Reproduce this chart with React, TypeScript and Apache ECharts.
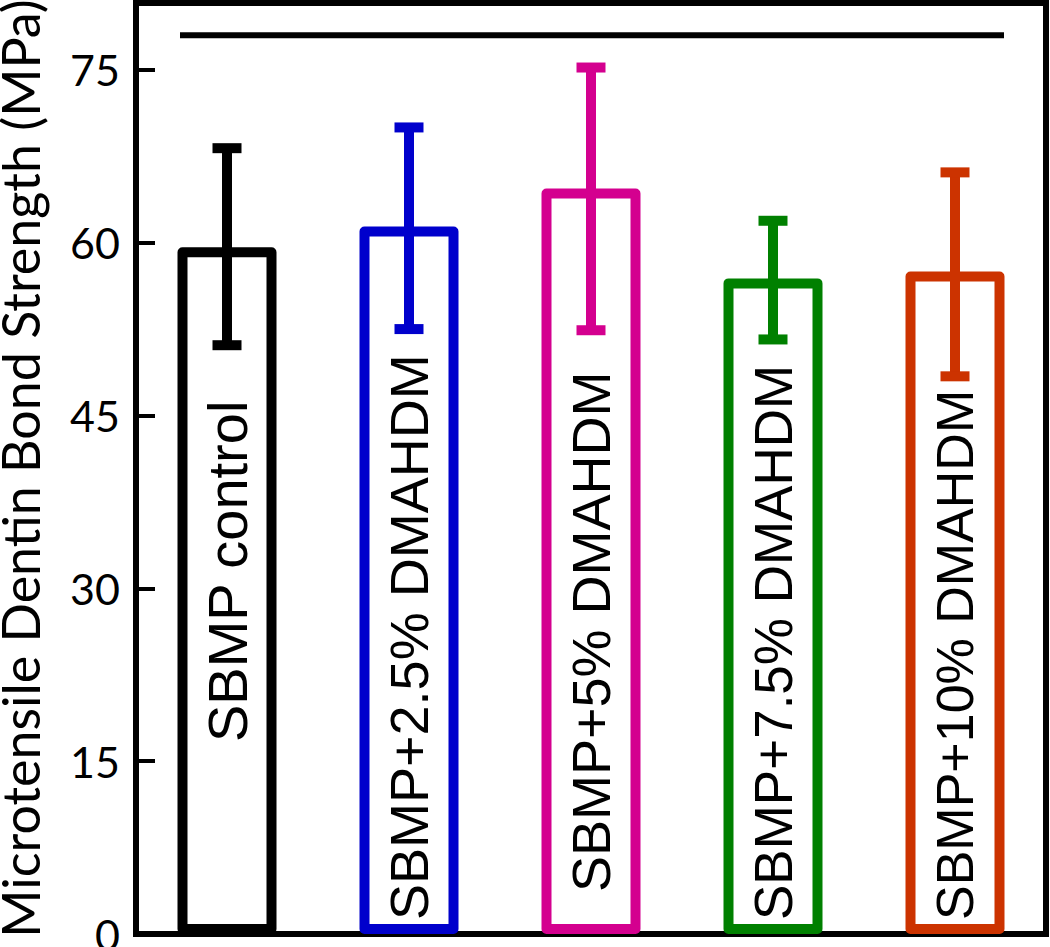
import React, { useEffect, useRef } from "react";
import * as echarts from "echarts";

const categories = [
  "SBMP control",
  "SBMP+2.5% DMAHDM",
  "SBMP+5% DMAHDM",
  "SBMP+7.5% DMAHDM",
  "SBMP+10% DMAHDM",
];
const means = [59.6, 61.4, 64.7, 56.9, 57.5];
const upper = [68.2, 70.0, 75.2, 61.9, 66.1];
const lower = [51.1, 52.5, 52.4, 51.6, 48.4];
const colors = ["#000000", "#0000CC", "#D4008F", "#008000", "#CC3300"];
const yMin = 0;
const yMax = 80.8;
const yInterval = 15;
const sigLineValue = 78;
const sigFrom = 0;
const sigTo = 4;
const yTitle = "Microtensile Dentin Bond Strength (MPa)";

// label styling (distance from bar bottom and font size, px)
const labelDistances = [192, 14, 42, 14, 14];
const labelSizes = [56, 54, 54, 53, 52];

const BAR_W = 99;

export default function App() {
  const ref = useRef<HTMLDivElement>(null);
  useEffect(() => {
    document.body.style.margin = "0";
    const chart = echarts.init(ref.current!, null, { renderer: "svg" });
    const option = {
      animation: false,
      backgroundColor: "#ffffff",
      grid: {
        left: 136,
        right: 4,
        top: 3,
        bottom: 13,
        show: true,
        borderColor: "#000",
        borderWidth: 6,
        backgroundColor: "transparent",
        containLabel: false,
        outerBoundsMode: "none",
      },
      xAxis: {
        type: "category",
        data: categories,
        axisLine: { show: true, lineStyle: { color: "#000", width: 6 } },
        axisTick: { show: false },
        axisLabel: { show: false },
        splitLine: { show: false },
      },
      yAxis: {
        type: "value",
        min: yMin,
        max: yMax,
        interval: yInterval,
        name: yTitle,
        nameLocation: "middle",
        nameGap: 90,
        nameTextStyle: { fontSize: 52, fontFamily: "Lato", color: "#000" },
        axisLine: { show: true, lineStyle: { color: "#000", width: 6 } },
        axisTick: { show: true, inside: true, length: 19, lineStyle: { color: "#000", width: 4 } },
        axisLabel: {
          fontSize: 43,
          fontFamily: "Lato",
          color: "#000",
          margin: 16,
          showMaxLabel: false,
        },
        splitLine: { show: false },
      },
      series: [
        {
          type: "bar",
          barWidth: BAR_W,
          z: 2,
          data: means.map((v, i) => ({
            value: v,
            itemStyle: {
              color: "#ffffff",
              borderColor: colors[i],
              borderWidth: 10,
              borderJoin: "round",
            },
            label: { distance: labelDistances[i], fontSize: labelSizes[i] },
          })),
          label: {
            show: true,
            position: "insideBottom",
            rotate: 90,
            align: "left",
            verticalAlign: "middle",
            formatter: (p: any) => categories[p.dataIndex],
            fontSize: 54,
            fontFamily: "Liberation Sans",
            color: "#000",
          },
        },
        {
          type: "custom",
          z: 5,
          data: categories.map((_, i) => [i, upper[i], lower[i]]),
          encode: { x: 0, y: [1, 2] },
          renderItem: (params: any, api: any) => {
            const x = api.value(0);
            const pHi = api.coord([x, api.value(1)]);
            const pLo = api.coord([x, api.value(2)]);
            const c = colors[params.dataIndex];
            const cap = 14.5;
            const st = { stroke: c, lineWidth: 10 };
            return {
              type: "group",
              children: [
                { type: "line", shape: { x1: pHi[0], y1: pHi[1], x2: pLo[0], y2: pLo[1] }, style: st },
                { type: "line", shape: { x1: pHi[0] - cap, y1: pHi[1], x2: pHi[0] + cap, y2: pHi[1] }, style: st },
                { type: "line", shape: { x1: pLo[0] - cap, y1: pLo[1], x2: pLo[0] + cap, y2: pLo[1] }, style: st },
              ],
            };
          },
        },
        {
          type: "custom",
          z: 5,
          data: [[sigFrom, sigLineValue, sigTo]],
          encode: { x: 0, y: 1 },
          renderItem: (params: any, api: any) => {
            const v = api.value(1);
            const p0 = api.coord([api.value(0), v]);
            const p1 = api.coord([api.value(2), v]);
            return {
              type: "line",
              shape: { x1: p0[0] - 47, y1: p0[1], x2: p1[0] + 49, y2: p1[1] },
              style: { stroke: "#000", lineWidth: 6 },
            };
          },
        },
      ],
    };
    chart.setOption(option as any);
    return () => chart.dispose();
  }, []);
  return <div ref={ref} style={{ width: 1050, height: 947 }} />;
}
